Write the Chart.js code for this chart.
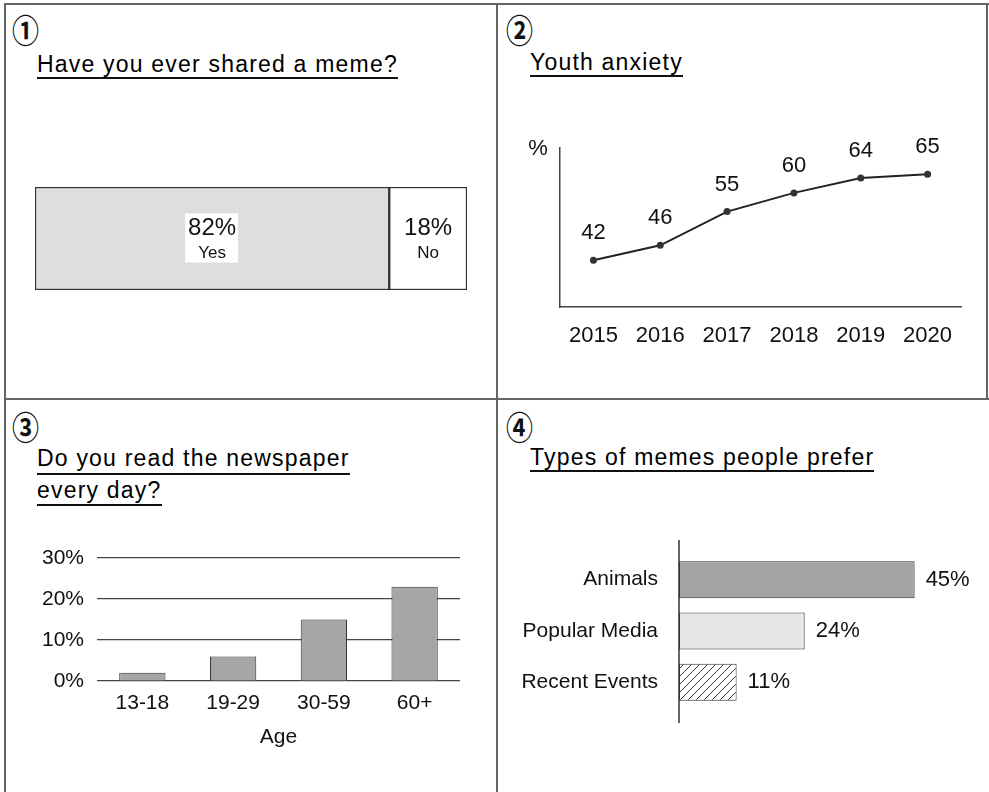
<!DOCTYPE html>
<html>
<head>
<meta charset="utf-8">
<script src="https://cdn.jsdelivr.net/npm/chart.js@4.4.1/dist/chart.umd.min.js"></script>
<style>
  body { margin: 0; background: #fff; font-family: "Liberation Sans", Arial, sans-serif; color: #111; }
  #page { position: relative; width: 989px; height: 792px; overflow: hidden; background: #fff; }
  .rule { position: absolute; background: #666; }
  .num { position: absolute; font-family: "Noto Sans CJK KR", "DejaVu Sans", sans-serif; font-weight: bold; font-size: 27px; line-height: 27px; transform: scaleY(1.2); transform-origin: top left; color: #111; }
  .title { position: absolute; font-size: 23px; line-height: 23px; letter-spacing: 1.2px; white-space: nowrap; border-bottom: 2.5px solid #111; color: #000; }
  canvas { position: absolute; }
</style>
</head>
<body>
<div id="page">
  <div class="rule" style="left:5px;top:3px;width:984px;height:2px"></div>
  <div class="rule" style="left:4px;top:3px;width:2px;height:789px"></div>
  <div class="rule" style="left:496px;top:3px;width:2px;height:789px"></div>
  <div class="rule" style="left:5px;top:398px;width:984px;height:2px"></div>
  <div class="rule" style="left:986px;top:3px;width:2px;height:397px"></div>

  <div class="num" style="left:12px;top:13px">①</div>
  <div class="title" style="left:37px;top:53px;padding-bottom:1px">Have you ever shared a meme?</div>

  <div class="num" style="left:506px;top:13px">②</div>
  <div class="title" style="left:530px;top:51px;padding-bottom:1px">Youth anxiety</div>

  <div class="num" style="left:12px;top:410px">③</div>
  <div class="title" style="left:37px;top:447px;padding-bottom:3px">Do you read the newspaper</div>
  <div class="title" style="left:37px;top:479px;padding-bottom:2px">every day?</div>

  <div class="num" style="left:506px;top:410px">④</div>
  <div class="title" style="left:530px;top:446px;padding-bottom:1px">Types of memes people prefer</div>

  <canvas id="c1" width="492" height="280" style="left:5px;top:100px"></canvas>
  <canvas id="c2" width="490" height="290" style="left:497px;top:90px"></canvas>
  <canvas id="c3" width="490" height="230" style="left:5px;top:530px"></canvas>
  <canvas id="c4" width="487" height="230" style="left:500px;top:520px"></canvas>
</div>
<script>
// ① shared a meme
const shareLabels = ['Yes', 'No'];
const shareValues = [82, 18];
// ② youth anxiety
const years = ['2015', '2016', '2017', '2018', '2019', '2020'];
const anxietyValues = [42, 46, 55, 60, 64, 65];
// ③ newspaper every day
const ageGroups = ['13-18', '19-29', '30-59', '60+'];
const newspaperValues = [2, 6, 15, 23];
// ④ meme types
const memeTypes = ['Animals', 'Popular Media', 'Recent Events'];
const memeValues = [45, 24, 11];

const FONT = '"Liberation Sans", Arial, sans-serif';
Chart.defaults.font.family = FONT;
Chart.defaults.color = '#111';
Chart.defaults.animation = false;
Chart.defaults.responsive = false;
Chart.defaults.plugins.legend.display = false;
Chart.defaults.plugins.tooltip.enabled = false;

function fixWidth(w) { return function (scale) { scale.width = w; }; }
function fixHeight(h) { return function (scale) { scale.height = h; }; }

// ---------- ① ----------
const shareText = {
  id: 'shareText',
  afterDatasetsDraw(chart) {
    const ctx = chart.ctx;
    ctx.save();
    ctx.textAlign = 'center';
    ctx.textBaseline = 'middle';
    ctx.fillStyle = '#111';
    shareLabels.forEach(function (lab, i) {
      const bar = chart.getDatasetMeta(i).data[0];
      const cx = (bar.x + bar.base) / 2;
      const cy = bar.y;
      if (i === 0) {
        ctx.fillStyle = '#fff';
        ctx.fillRect(cx - 27, cy - 25, 53, 49);
        ctx.fillStyle = '#111';
      }
      ctx.font = '24px ' + FONT;
      ctx.fillText(shareValues[i] + '%', cx, cy - 10);
      ctx.font = '17px ' + FONT;
      ctx.fillText(lab, cx, cy + 15);
    });
    ctx.restore();
  }
};

new Chart(document.getElementById('c1'), {
  type: 'bar',
  data: {
    labels: ['meme'],
    datasets: shareLabels.map(function (lab, i) {
      return {
        label: lab,
        data: [shareValues[i]],
        backgroundColor: i === 0 ? '#dedede' : '#ffffff',
        borderColor: '#333',
        borderWidth: 1.5,
        borderSkipped: false,
        barPercentage: 1,
        categoryPercentage: 1
      };
    })
  },
  options: {
    indexAxis: 'y',
    layout: { padding: { left: 30, right: 30, top: 87, bottom: 90 } },
    scales: {
      x: { stacked: true, display: false, min: 0, max: 100 },
      y: { stacked: true, display: false }
    }
  },
  plugins: [shareText]
});

// ---------- ② ----------
const anxietyText = {
  id: 'anxietyText',
  afterDatasetsDraw(chart) {
    const ctx = chart.ctx;
    const area = chart.chartArea;
    ctx.save();
    ctx.fillStyle = '#111';
    ctx.textAlign = 'center';
    ctx.textBaseline = 'middle';
    ctx.font = '22px ' + FONT;
    chart.getDatasetMeta(0).data.forEach(function (pt, i) {
      ctx.fillText(String(anxietyValues[i]), pt.x, pt.y - 27);
    });
    ctx.fillText('%', area.left - 22, area.top + 1);
    ctx.restore();
  }
};

new Chart(document.getElementById('c2'), {
  type: 'line',
  data: {
    labels: years,
    datasets: [{
      data: anxietyValues,
      borderColor: '#222',
      borderWidth: 2,
      pointRadius: 3.5,
      pointBackgroundColor: '#333',
      pointBorderWidth: 0,
      tension: 0
    }]
  },
  options: {
    layout: { padding: { left: 63, right: 26, top: 58, bottom: 28 } },
    scales: {
      x: {
        offset: true,
        grid: { display: false, drawTicks: false },
        border: { display: true, color: '#444', width: 1.5 },
        ticks: { font: { size: 22 }, padding: 16, color: '#111' },
        afterFit: fixHeight(45)
      },
      y: {
        min: 29.5,
        max: 72,
        grid: { display: false, drawTicks: false },
        border: { display: true, color: '#444', width: 1.5 },
        ticks: { display: false },
        afterFit: fixWidth(0)
      }
    }
  },
  plugins: [anxietyText]
});

// ---------- ③ ----------
new Chart(document.getElementById('c3'), {
  type: 'bar',
  data: {
    labels: ageGroups,
    datasets: [{
      data: newspaperValues,
      backgroundColor: '#a6a6a6',
      borderColor: '#333',
      borderWidth: 1,
      barPercentage: 0.51,
      categoryPercentage: 1
    }]
  },
  options: {
    layout: { padding: { left: 10, right: 35, top: 28, bottom: 9 } },
    scales: {
      x: {
        grid: { display: false, drawTicks: false },
        border: { display: false },
        ticks: { font: { size: 21 }, padding: 10, color: '#111' },
        title: { display: true, text: 'Age', font: { size: 21 }, color: '#111', padding: { top: 0, bottom: 1 } },
        afterFit: fixHeight(70)
      },
      y: {
        min: 0,
        max: 30,
        grid: { color: '#444', lineWidth: 1.2, drawTicks: false },
        border: { display: false },
        ticks: {
          stepSize: 10,
          font: { size: 21 },
          padding: 13,
          color: '#111',
          callback: function (v) { return v + '%'; }
        },
        afterFit: fixWidth(82)
      }
    }
  }
});

// ---------- ④ ----------
function hatch() {
  const c = document.createElement('canvas');
  c.width = 8; c.height = 8;
  const g = c.getContext('2d');
  g.fillStyle = '#fff';
  g.fillRect(0, 0, 8, 8);
  g.strokeStyle = '#333';
  g.lineWidth = 1;
  g.beginPath();
  g.moveTo(0, 8); g.lineTo(8, 0);
  g.moveTo(-2, 2); g.lineTo(2, -2);
  g.moveTo(6, 10); g.lineTo(10, 6);
  g.stroke();
  return c.getContext('2d').createPattern(c, 'repeat');
}

const memeExtras = {
  id: 'memeExtras',
  afterDatasetsDraw(chart) {
    const ctx = chart.ctx;
    const area = chart.chartArea;
    ctx.save();
    ctx.strokeStyle = '#333';
    ctx.lineWidth = 1.5;
    ctx.beginPath();
    ctx.moveTo(area.left, area.top - 14);
    ctx.lineTo(area.left, area.bottom + 15);
    ctx.stroke();
    ctx.fillStyle = '#111';
    ctx.font = '22px ' + FONT;
    ctx.textAlign = 'left';
    ctx.textBaseline = 'middle';
    chart.getDatasetMeta(0).data.forEach(function (bar, i) {
      ctx.fillText(memeValues[i] + '%', bar.x + 11, bar.y);
    });
    ctx.restore();
  }
};

new Chart(document.getElementById('c4'), {
  type: 'bar',
  data: {
    labels: memeTypes,
    datasets: [{
      data: memeValues,
      backgroundColor: ['#a3a3a3', '#e6e6e6', hatch()],
      borderColor: '#333',
      borderWidth: 1,
      borderSkipped: false,
      barPercentage: 0.72,
      categoryPercentage: 1
    }]
  },
  options: {
    indexAxis: 'y',
    layout: { padding: { left: 5, right: 20, top: 34, bottom: 42 } },
    scales: {
      x: { display: false, min: 0, max: 55 },
      y: {
        grid: { display: false, drawTicks: false },
        border: { display: false },
        ticks: { font: { size: 21 }, padding: 21, color: '#111' },
        afterFit: fixWidth(174)
      }
    }
  },
  plugins: [memeExtras]
});
</script>
</body>
</html>
